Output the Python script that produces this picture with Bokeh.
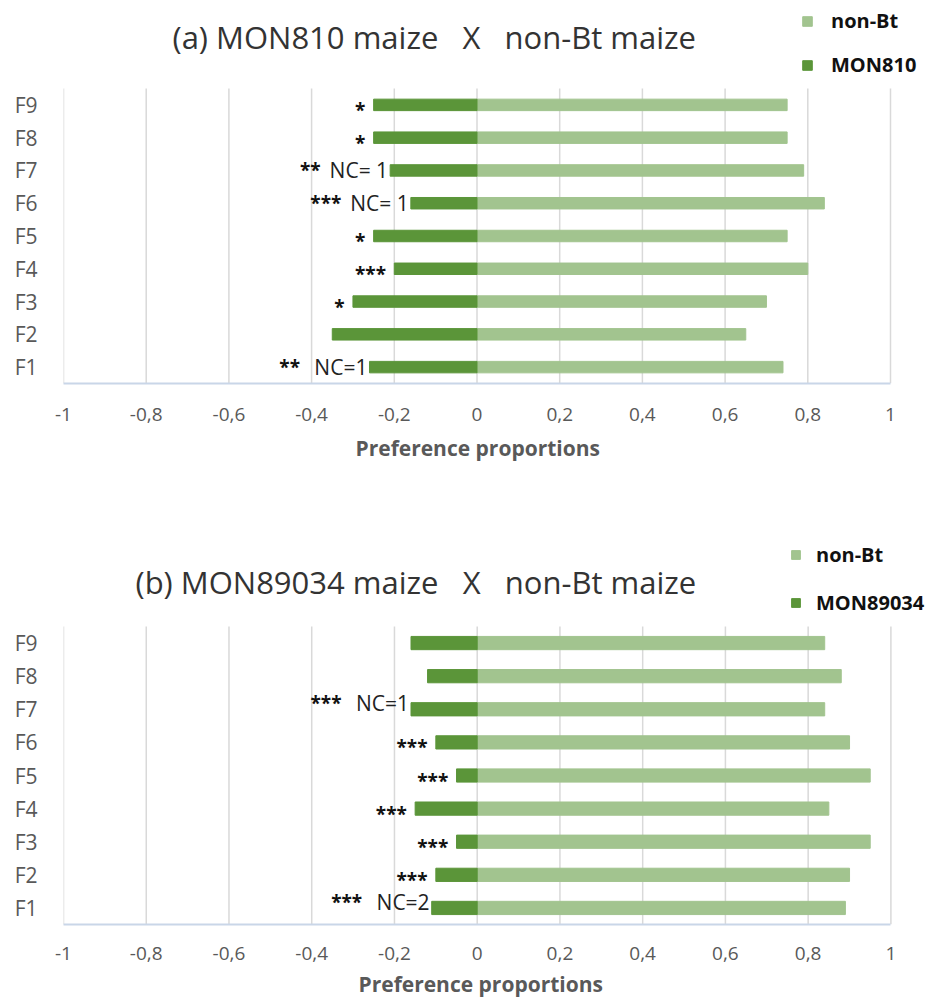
from bokeh.plotting import figure
from bokeh.layouts import column
from bokeh.models import Range1d, FixedTicker, Label, Title
from bokeh.core.properties import value
from bokeh.embed import file_html
from bokeh.resources import INLINE

families = ["F1", "F2", "F3", "F4", "F5", "F6", "F7", "F8", "F9"]

tick_values = [-1, -0.8, -0.6, -0.4, -0.2, 0, 0.2, 0.4, 0.6, 0.8, 1]
tick_labels = ["-1", "-0,8", "-0,6", "-0,4", "-0,2", "0", "0,2", "0,4", "0,6", "0,8", "1"]
x_title = "Preference proportions"

# (a) MON810 vs non-Bt
a_title = "(a) MON810 maize \u00a0 X \u00a0 non-Bt maize"
a_bt = [-0.26, -0.35, -0.30, -0.20, -0.25, -0.16, -0.21, -0.25, -0.25]
a_nonbt = [0.74, 0.65, 0.70, 0.80, 0.75, 0.84, 0.79, 0.75, 0.75]
a_stars = ["**", "", "*", "***", "*", "***", "**", "*", "*"]
a_nc = ["NC=1", "", "", "", "", "NC= 1", "NC= 1", "", ""]

# (b) MON89034 vs non-Bt
b_title = "(b) MON89034 maize \u00a0 X \u00a0 non-Bt maize"
b_bt = [-0.11, -0.10, -0.05, -0.15, -0.05, -0.10, -0.16, -0.12, -0.16]
b_nonbt = [0.89, 0.90, 0.95, 0.85, 0.95, 0.90, 0.84, 0.88, 0.84]
b_stars = ["***", "***", "***", "***", "***", "***", "***", "", ""]
b_nc = ["NC=2", "", "", "", "", "", "NC=1", "", ""]

DARK = "#5b9539"
LIGHT = "#a2c48f"
GRAY = "#595959"
FONT = "Open Sans"
W = 925
AXIS_RIGHT = 890  # pixel where x = 1 sits


def make_chart(title, bt_name, bt, nonbt, stars, nc, height, header_px,
               plot_px, left, title_x, title_y, legend_x, legend_y,
               legend_spacing, glyph, lbl_standoff, bar_h, nc_dy, star_nc_dy,
               tick_standoff, xlab_offset, xlab_standoff):
    rows = list(range(1, len(families) + 1))
    n = len(families)
    y_top = n + 0.5 + n * header_px / plot_px
    x_end = -1 + 2 * (W - left) / (AXIS_RIGHT - left)
    p = figure(width=W, height=height, output_backend="svg",
               toolbar_location=None,
               x_range=Range1d(-1, x_end), y_range=Range1d(0.5, y_top),
               min_border_left=left, min_border_top=0, min_border_right=0,
               min_border_bottom=height - header_px - plot_px)
    p.outline_line_color = None
    p.xgrid.grid_line_color = None
    p.ygrid.grid_line_color = None

    # vertical grid lines limited to the category area
    p.segment(x0=tick_values, x1=tick_values, y0=[0.5] * len(tick_values),
              y1=[n + 0.5] * len(tick_values), line_color="#d9d9d9",
              line_width=1.5)

    p.hbar(y=rows, left=0, right=nonbt, height=bar_h, fill_color=LIGHT,
           line_color=LIGHT, legend_label="non-Bt")
    p.hbar(y=rows, left=bt, right=0, height=bar_h, fill_color=DARK,
           line_color=DARK, legend_label=bt_name)

    # significance stars and no-choice counts
    s_plain = [s if not c else "" for s, c in zip(stars, nc)]
    s_nc = [s if c else "" for s, c in zip(stars, nc)]
    x_plain = [b - 0.02 for b in bt]
    x_nc = [b - 0.168 for b in bt]
    nc_x = [b - 0.005 for b in bt]
    star_kw = dict(text_align="right", text_baseline="middle",
                   text_font=value(FONT), text_font_size="19px",
                   text_font_style="bold", text_color="#111111")
    p.text(x=x_plain, y=rows, text=s_plain, y_offset=5, **star_kw)
    p.text(x=x_nc, y=rows, text=s_nc, y_offset=star_nc_dy, **star_kw)
    p.text(x=nc_x, y=rows, text=nc, text_align="right", y_offset=nc_dy,
           text_baseline="middle", text_font=value(FONT),
           text_font_size="21px", text_color="#222222")

    p.add_layout(Label(x=title_x, y=title_y, x_units="screen", y_units="screen",
                       text=title, text_font=FONT, text_font_size="31px",
                       text_color="#333333", text_baseline="alphabetic",
                       text_align="left"))

    p.xaxis.ticker = FixedTicker(ticks=tick_values)
    p.xaxis.bounds = (-1, 1)
    p.xaxis.major_label_overrides = {float(v): s for v, s in zip(tick_values, tick_labels)}
    p.xaxis.major_label_text_font = FONT
    p.xaxis.major_label_text_font_size = "19px"
    p.xaxis.major_label_text_color = GRAY
    p.xaxis.major_label_standoff = tick_standoff
    p.xaxis.major_tick_line_color = None
    p.xaxis.minor_tick_line_color = None
    p.xaxis.axis_line_color = "#c9d6e8"
    p.xaxis.axis_line_width = 2
    p.xaxis.axis_label = None

    # x-axis title, centred under the -1..1 span rather than the whole frame
    p.add_layout(Title(text=x_title, align="left", offset=xlab_offset,
                       standoff=xlab_standoff, text_font=FONT,
                       text_font_size="21px", text_font_style="bold",
                       text_color=GRAY), "below")

    p.yaxis.ticker = FixedTicker(ticks=rows)
    p.yaxis.major_label_overrides = {float(r): f for r, f in zip(rows, families)}
    p.yaxis.major_label_text_font = FONT
    p.yaxis.major_label_text_font_size = "21px"
    p.yaxis.major_label_text_color = GRAY
    p.yaxis.major_label_standoff = 20
    p.yaxis.major_tick_line_color = None
    p.yaxis.minor_tick_line_color = None
    p.yaxis.axis_line_color = None

    lg = p.legend[0]
    lg.location = (legend_x, legend_y)
    lg.border_line_color = None
    lg.background_fill_alpha = 0
    lg.padding = 0
    lg.margin = 0
    lg.spacing = legend_spacing
    lg.glyph_width = glyph
    lg.glyph_height = glyph
    lg.label_height = 20
    lg.label_standoff = lbl_standoff
    lg.label_text_font = FONT
    lg.label_text_font_size = "20px"
    lg.label_text_font_style = "bold"
    lg.label_text_color = "#111111"
    return p


p1 = make_chart(a_title, "MON810", a_bt, a_nonbt, a_stars, a_nc,
                height=477, header_px=88, plot_px=295, left=63,
                title_x=109, title_y=347, legend_x=738, legend_y=305,
                legend_spacing=17, glyph=12, lbl_standoff=18, bar_h=0.35,
                nc_dy=0, star_nc_dy=0, tick_standoff=18,
                xlab_offset=292, xlab_standoff=17)

p2 = make_chart(b_title, "MON89034", b_bt, b_nonbt, b_stars, b_nc,
                height=528, header_px=149, plot_px=298, left=53,
                title_x=72, title_y=343, legend_x=727, legend_y=308,
                legend_spacing=21, glyph=11, lbl_standoff=15, bar_h=0.40,
                nc_dy=-6, star_nc_dy=-6, tick_standoff=16,
                xlab_offset=295, xlab_standoff=10)

layout = column(p1, p2)
open("out.html", "w").write(file_html(layout, INLINE))
